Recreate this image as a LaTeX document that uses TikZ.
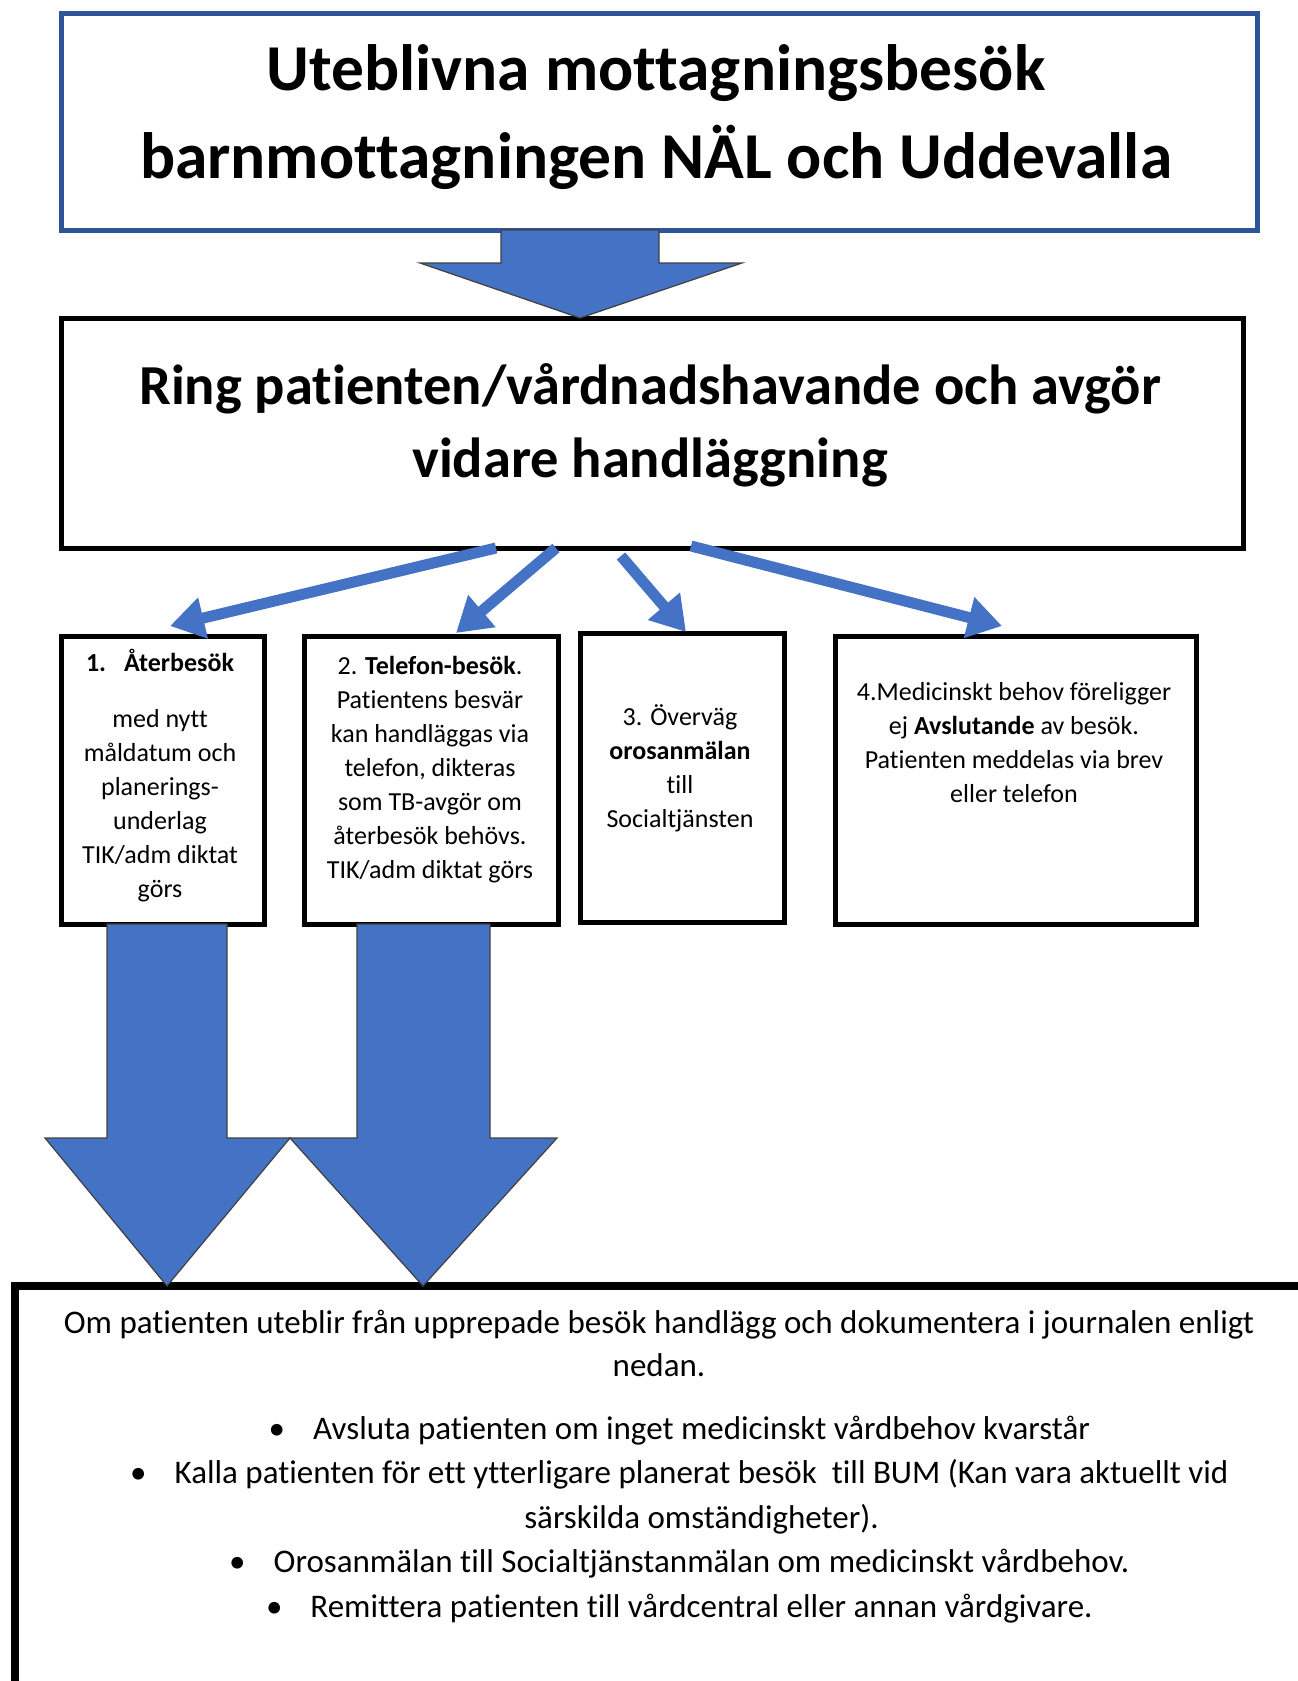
\documentclass[tikz,border=0pt]{standalone}
\usepackage{fontspec}
\setmainfont{Carlito}[Ligatures=CommonOff]
\usetikzlibrary{arrows.meta,calc}
\definecolor{obl}{HTML}{4472C4}
\definecolor{tbl}{HTML}{2F5597}
\begin{document}
\begin{tikzpicture}[x=1pt,y=1pt,
  box/.style={draw=black,line width=5pt,outer sep=0pt,inner sep=0pt},
  txt/.style={align=center,inner sep=0pt},
  boxtxt/.style={txt,font=\fontsize{26}{34}\selectfont},
  thinarr/.style={draw=obl,line width=11pt,-{Triangle[width=40pt,length=34pt]}},
  blockarr/.style={fill=obl,draw=black!75,line width=1.2pt,line join=miter}]
\useasboundingbox (0,0) rectangle (1298,-1681);
\begin{scope}
\clip (0,0) rectangle (1298,-1681);
% boxes
\node[box,draw=tbl,minimum width=1196pt,minimum height=217pt] (title) at (659,-121.5) {};
\node[box,minimum width=1182pt,minimum height=230pt] (ring) at (652,-433) {};
\node[box,minimum width=203pt,minimum height=288pt] (b1) at (162.5,-780) {};
\node[box,minimum width=254pt,minimum height=288pt] (b2) at (431,-780) {};
\node[box,minimum width=204pt,minimum height=289pt] (b3) at (682,-777.5) {};
\node[box,minimum width=361pt,minimum height=288pt] (b4) at (1015.5,-780) {};
\node[box,line width=8pt,minimum width=1315pt,minimum height=444pt] (bottom) at (672.5,-1508) {};
% texts
\node[txt,font=\fontsize{65.5}{88}\selectfont\bfseries] (titletext) at (656,-117.5)
  {Uteblivna mottagningsbesök\\barnmottagningen NÄL och Uddevalla};
\node[txt,font=\fontsize{56.5}{73}\selectfont\bfseries] (ringtext) at (650,-425.5)
  {Ring patienten/vårdnadshavande och avgör\\vidare handläggning};
\node[boxtxt] (t1) at (160,-775.5)
  {\textbf{1.}\hspace{18pt}\textbf{Återbesök}\\[22pt]med nytt\\måldatum och\\planerings-\\underlag\\TIK/adm diktat\\görs};
\node[boxtxt] (t2) at (430,-769.5)
  {2. \textbf{Telefon-besök}.\\Patientens besvär\\kan handläggas via\\telefon, dikteras\\som TB-avgör om\\återbesök behövs.\\TIK/adm diktat görs};
\node[boxtxt] (t3) at (680,-768.5)
  {3. Överväg\\\textbf{orosanmälan}\\till\\Socialtjänsten};
\node[boxtxt] (t4) at (1014,-743)
  {4.Medicinskt behov föreligger\\ej \textbf{Avslutande} av besök.\\Patienten meddelas via brev\\eller telefon};
\node[txt,font=\fontsize{33}{43}\selectfont] (bhead) at (659,-1343)
  {Om patienten uteblir från upprepade besök handlägg och dokumentera i journalen enligt\\nedan.};
\node[txt,font=\fontsize{33}{44.5}\selectfont] (blist) at (701.5,-1519.5)
  {\llap{\textbullet\hspace{28pt}}Avsluta patienten om inget medicinskt vårdbehov kvarstår\\
   \llap{\textbullet\hspace{28pt}}Kalla patienten för ett ytterligare planerat besök\ \ till BUM (Kan vara aktuellt vid\\
   särskilda omständigheter).\\
   \llap{\textbullet\hspace{28pt}}Orosanmälan till Socialtjänstanmälan om medicinskt vårdbehov.\\
   \llap{\textbullet\hspace{28pt}}Remittera patienten till vårdcentral eller annan vårdgivare.};
% top block arrow
\draw[blockarr] (501,0 |- title.south) -- (659,0 |- title.south) -- (659,-263) -- (742,-263)
  -- (580,0 |- ring.north) -- (420,-263) -- (501,-263) -- cycle;
% thin arrows
\draw[thinarr] ($(ring.south)+(-156,0)$) -- ($(b1.north)+(7.5,10)$);
\draw[thinarr] ($(ring.south)+(-96,0)$) -- ($(b2.north)+(25,3)$);
\draw[thinarr] ($(ring.south)+(-31,-8)$) -- ($(b3.north)+(4,1)$);
\draw[thinarr] ($(ring.south)+(39,2)$) -- ($(b4.north)+(-13.5,10)$);
% big block arrows
\draw[blockarr] (107,0 |- b1.south) -- (227,0 |- b1.south) -- (227,-1138) -- (290,-1138)
  -- (167,0 |- bottom.north) -- (45,-1138) -- (107,-1138) -- cycle;
\draw[blockarr] (357,0 |- b2.south) -- (490,0 |- b2.south) -- (490,-1138) -- (557,-1138)
  -- (423,0 |- bottom.north) -- (290,-1138) -- (357,-1138) -- cycle;
\end{scope}
\end{tikzpicture}
\end{document}
